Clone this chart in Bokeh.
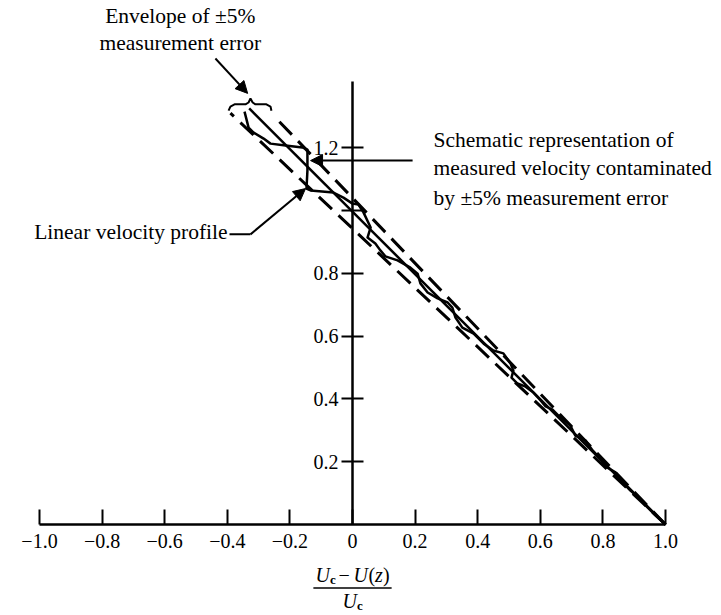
from bokeh.plotting import figure
from bokeh.models import (LinearAxis, FixedTicker, Range1d, Arrow, NormalHead,
                          ColumnDataSource)
from bokeh.core.properties import value
from bokeh.embed import file_html
from bokeh.resources import INLINE

# ---------------- data ----------------
x_ticks = [-1.0, -0.8, -0.6, -0.4, -0.2, 0.0, 0.2, 0.4, 0.6, 0.8, 1.0]
x_tick_labels = ["\u22121.0", "\u22120.8", "\u22120.6", "\u22120.4", "\u22120.2",
                 "0", "0.2", "0.4", "0.6", "0.8", "1.0"]
y_ticks = [0.2, 0.4, 0.6, 0.8, 1.0, 1.2]
y_tick_labels = ["0.2", "0.4", "0.6", "0.8", "", "1.2"]

# linear velocity profile
profile_x = [1.0, -0.33]
profile_y = [0.0, 1.325]
# envelope of +-5 % measurement error
env_low_x = [1.0, -0.39]
env_low_y = [0.0, 1.31]
env_high_x = [1.0, -0.25]
env_high_y = [0.0, 1.30]

# schematic measured velocity profile
measured_x = [-0.345, -0.332, -0.316, -0.284, -0.262, -0.214, -0.160, -0.144, -0.144, -0.147,
              -0.134, -0.061, -0.029, 0.000, 0.019, 0.035, 0.058, 0.048, 0.073, 0.089,
              0.105, 0.144, 0.185, 0.208, 0.217, 0.240, 0.272, 0.304, 0.319, 0.329,
              0.351, 0.387, 0.419, 0.450, 0.482, 0.505, 0.514, 0.508, 0.527, 0.553,
              0.578, 0.601, 0.617, 0.639, 0.658, 0.696, 0.712, 0.744, 0.767, 0.792,
              0.808, 0.840, 0.863, 0.888, 0.914, 0.936, 0.968, 1.0]
measured_y = [1.315, 1.264, 1.248, 1.229, 1.213, 1.207, 1.201, 1.194, 1.127, 1.070,
              1.064, 1.057, 1.041, 1.022, 1.019, 0.994, 0.946, 0.914, 0.895, 0.873,
              0.854, 0.841, 0.818, 0.799, 0.768, 0.739, 0.720, 0.707, 0.691, 0.659,
              0.627, 0.608, 0.576, 0.554, 0.545, 0.513, 0.490, 0.468, 0.449, 0.439,
              0.420, 0.395, 0.376, 0.366, 0.347, 0.315, 0.283, 0.268, 0.236, 0.210,
              0.185, 0.166, 0.134, 0.108, 0.086, 0.061, 0.029, 0.0]

# curly brace over the envelope
brace_x = [-0.396, -0.390, -0.377, -0.342, -0.332, -0.326, -0.319, -0.310, -0.275, -0.262, -0.259]
brace_y = [1.318, 1.331, 1.338, 1.338, 1.344, 1.357, 1.344, 1.338, 1.338, 1.331, 1.318]

# annotation texts
note_text = ["Envelope of \u00b15%", "measurement error",
             "Schematic representation of", "measured velocity contaminated",
             "by \u00b15% measurement error", "Linear velocity profile"]
note_x = [-0.550, -0.550, 0.259, 0.259, 0.259, -0.399]
note_y = [1.621, 1.532, 1.223, 1.134, 1.041, 0.930]
note_align = ["center", "center", "left", "left", "left", "right"]

# annotation arrows: (x_start, y_start, x_end, y_end)
arrow_envelope = (-0.438, 1.484, -0.335, 1.373)
arrow_measured = (0.192, 1.159, -0.134, 1.159)
leader_profile_x = [-0.393, -0.326]
leader_profile_y = [0.924, 0.924]
arrow_profile = (-0.326, 0.924, -0.150, 1.070)

# x-axis title pieces  (Uc - U(z)) / Uc
title_text = ["U", "c", "\u2212", "U", "(", "z", ")", "U", "c"]
title_row = ["num", "num", "num", "num", "num", "num", "num", "den", "den"]

SERIF = "Liberation Serif"

# ---------------- figure ----------------
p = figure(width=721, height=615, output_backend="svg", toolbar_location=None,
           x_range=Range1d(-1.1246, 1.1789), y_range=Range1d(-0.2898, 1.6688),
           x_axis_type=None, y_axis_type=None, min_border=0,
           outline_line_color=None)
p.grid.visible = False
p.background_fill_color = "white"
p.border_fill_color = "white"

xaxis = LinearAxis(fixed_location=0, bounds=(-1.0, 1.0),
                   ticker=FixedTicker(ticks=x_ticks),
                   major_label_overrides={t: l for t, l in zip(x_ticks, x_tick_labels)},
                   major_tick_in=15, major_tick_out=0,
                   minor_tick_line_color=None,
                   axis_line_width=2.5, axis_line_color="black",
                   major_tick_line_width=2, major_tick_line_color="black",
                   major_label_text_font=SERIF, major_label_text_font_size="20px",
                   major_label_text_color="black", major_label_standoff=9)
p.add_layout(xaxis, "below")

yaxis = LinearAxis(fixed_location=0, bounds=(0.0, 1.41),
                   ticker=FixedTicker(ticks=y_ticks),
                   major_label_overrides={t: l for t, l in zip(y_ticks, y_tick_labels)},
                   major_tick_in=11, major_tick_out=11,
                   minor_tick_line_color=None,
                   axis_line_width=2.5, axis_line_color="black",
                   major_tick_line_width=2, major_tick_line_color="black",
                   major_label_text_font=SERIF, major_label_text_font_size="20px",
                   major_label_text_color="black", major_label_standoff=3)
p.add_layout(yaxis, "left")

# lines
p.line(env_low_x, env_low_y, line_color="black", line_width=3, line_dash="18 9")
p.line(env_high_x, env_high_y, line_color="black", line_width=3, line_dash="18 9")
p.line(profile_x, profile_y, line_color="black", line_width=2.5)
p.line(measured_x, measured_y, line_color="black", line_width=2.5, line_join="round")

# brace
p.line(brace_x, brace_y, line_color="black", line_width=2)

# annotation texts
notes = ColumnDataSource(dict(x=note_x, y=note_y, text=note_text, align=note_align))
p.text(x="x", y="y", text="text", text_align="align", text_baseline="middle",
       text_font=value(SERIF), text_font_size="21.5px", text_color="black", source=notes)

# arrows
head = dict(size=12, fill_color="black", line_color="black", line_width=1)
for (xs, ys, xe, ye) in (arrow_envelope, arrow_measured, arrow_profile):
    p.add_layout(Arrow(end=NormalHead(**head), x_start=xs, y_start=ys, x_end=xe, y_end=ye,
                       line_width=2, line_color="black"))
p.line(leader_profile_x, leader_profile_y, line_color="black", line_width=2)

# x-axis title as a stacked fraction
num_y, den_y, bar_y = -0.160, -0.243, -0.202
ty = {"num": num_y, "den": den_y}
title_offsets = [-37, -22.5, -14, 1, 16, 22.5, 30.5, -10, 4.5]
title_sizes = ["20px", "13px", "20px", "20px", "20px", "20px", "20px", "20px", "13px"]
title_styles = ["italic", "bold", "normal", "italic", "normal", "italic", "normal", "italic", "bold"]
title_dy = [0, 5, 0, 0, 0, 0, 0, 0, 5]
tsrc = ColumnDataSource(dict(x=[0.0] * len(title_text), y=[ty[r] for r in title_row],
                             text=title_text, xo=title_offsets, yo=title_dy,
                             size=title_sizes, style=title_styles))
p.text(x="x", y="y", text="text", x_offset="xo", y_offset="yo",
       text_font_size="size", text_font_style="style", text_font=value(SERIF),
       text_align="left", text_baseline="middle", text_color="black", source=tsrc)
p.segment(x0=[-0.125], y0=[bar_y], x1=[0.125], y1=[bar_y], line_color="black", line_width=1.5)

open("out.html", "w").write(file_html(p, INLINE))
